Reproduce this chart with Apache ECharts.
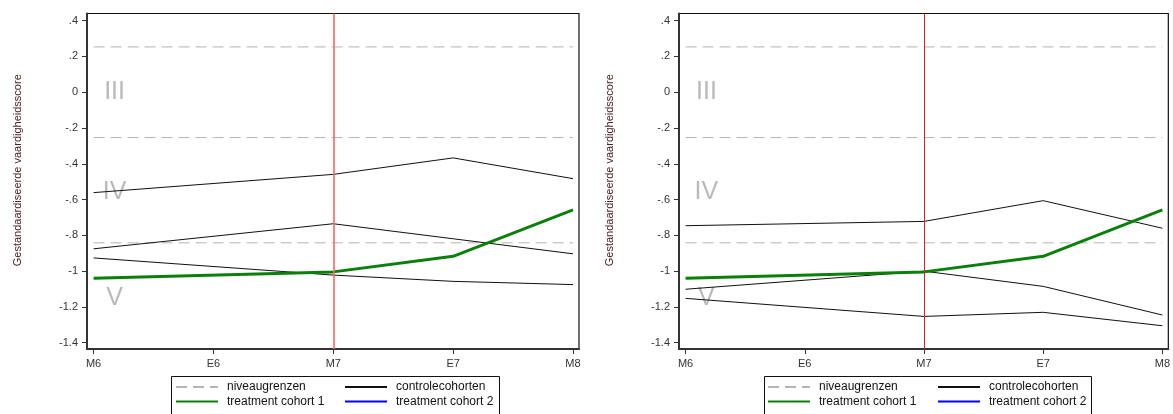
<!DOCTYPE html>
<html>
<head>
<meta charset="utf-8">
<script src="https://cdn.jsdelivr.net/npm/echarts@6/dist/echarts.min.js"></script>
<style>
  html, body { margin: 0; padding: 0; background: #fff; }
  #chart { width: 1173px; height: 414px; }
</style>
</head>
<body>
<div id="chart"></div>
<script>
// Measurement moments on the x axis
const categories = ['M6', 'E6', 'M7', 'E7', 'M8'];
const markerMoment = 'M7';

// Y axis ticks and their printed labels
const yTickValues = [0.4, 0.2, 0, -0.2, -0.4, -0.6, -0.8, -1, -1.2, -1.4];
const yTickLabels = ['.4', '.2', '0', '-.2', '-.4', '-.6', '-.8', '-1', '-1.2', '-1.4'];

// Level boundaries (niveaugrenzen) and the level names drawn between them
const levelBoundaries = [0.2533, -0.2533, -0.8416];
const levelNames = ['III', 'IV', 'V'];
const levelLabelY = [0, -0.56, -1.15];
const levelLabelX = 0.175;

// Left panel: control cohorts (no E6 measurement)
const leftControlA = [-0.561, null, -0.459, -0.367, -0.483];
const leftControlB = [-0.875, null, -0.735, -0.819, -0.903];
const leftControlC = [-0.926, null, -1.022, -1.057, -1.075];

// Right panel: control cohorts
const rightControlA = [-0.746, null, -0.722, -0.606, -0.760];
const rightControlB = [-1.101, null, -1.000, -1.085, -1.245];
const rightControlC = [-1.152, null, -1.253, -1.230, -1.305];

// Treatment cohorts
const treatment1 = [-1.040, null, -1.004, -0.917, -0.657];
const treatment2 = [];

const FONT = "'Liberation Sans', Arial, sans-serif";
const toPoints = vals => vals.map((v, i) => [i, v]);
const markerIndex = categories.indexOf(markerMoment);

const panels = [
  { left: 87, controls: [leftControlA, leftControlB, leftControlC], markerColor: '#ff6262', markerWidth: 1.6,
    legendCols: [175, 344], frame: [169, 497] },
  { left: 679, controls: [rightControlA, rightControlB, rightControlC], markerColor: '#e81c1c', markerWidth: 1,
    legendCols: [767, 937], frame: [762, 1089] }
];

const grids = [], xAxes = [], yAxes = [], series = [], legends = [], graphics = [];

panels.forEach((p, k) => {
  grids.push({
    left: p.left, top: 13.5, width: 492, height: 335.5,
    show: true, borderColor: '#111', borderWidth: 1.2, backgroundColor: '#fff'
  });
  xAxes.push({
    type: 'value', gridIndex: k, min: -0.055, max: 4.05,
    splitLine: { show: false },
    axisLine: { onZero: false, lineStyle: { color: '#333', width: 2 } },
    axisTick: { show: true, length: 5, customValues: categories.map((c, i) => i), lineStyle: { color: '#333', width: 1 } },
    axisLabel: {
      customValues: categories.map((c, i) => i),
      formatter: v => categories[Math.round(v)],
      margin: 9, fontFamily: FONT, fontSize: 11, color: '#333'
    }
  });
  yAxes.push({
    type: 'value', gridIndex: k, min: -1.435, max: 0.44,
    name: 'Gestandaardiseerde vaardigheidsscore',
    nameLocation: 'middle', nameGap: 64,
    nameTextStyle: { fontFamily: FONT, fontSize: 11, color: '#4a2222', padding: [0, 0, 0, 22] },
    splitLine: { show: false },
    axisLine: { show: true, onZero: false, lineStyle: { color: '#333', width: 2 } },
    axisTick: { show: true, length: 5, customValues: yTickValues, lineStyle: { color: '#333', width: 1 } },
    axisLabel: {
      customValues: yTickValues,
      formatter: v => yTickLabels[yTickValues.findIndex(t => Math.abs(t - v) < 1e-9)],
      margin: 9, fontFamily: FONT, fontSize: 11, color: '#333'
    }
  });

  // level boundaries
  levelBoundaries.forEach(b => {
    series.push({
      type: 'line', name: 'niveaugrenzen', xAxisIndex: k, yAxisIndex: k,
      data: categories.map((c, i) => [i, b]), symbol: 'none', silent: true,
      itemStyle: { color: '#b4b4b4' },
      lineStyle: { color: '#b4b4b4', width: 1, type: [11, 6] }, z: 2
    });
  });

  // level names
  series.push({
    type: 'scatter', xAxisIndex: k, yAxisIndex: k, symbolSize: 0, silent: true,
    data: levelNames.map((n, i) => ({ value: [levelLabelX, levelLabelY[i]], name: n })),
    label: { show: true, position: 'inside', formatter: d => d.name,
             fontFamily: FONT, fontSize: 25, color: '#a8a8a8' }, z: 1
  });

  // control cohorts
  p.controls.forEach((vals, j) => {
    const s = {
      type: 'line', name: 'controlecohorten', xAxisIndex: k, yAxisIndex: k,
      data: toPoints(vals), connectNulls: true, symbol: 'none',
      itemStyle: { color: '#111' },
      lineStyle: { color: '#111', width: 1 }, z: 3
    };
    if (j === 0) {
      s.markLine = {
        silent: true, symbol: 'none', label: { show: false },
        lineStyle: { color: p.markerColor, width: p.markerWidth, type: 'solid' },
        data: [{ xAxis: markerIndex }]
      };
    }
    series.push(s);
  });

  series.push({
    type: 'line', name: 'treatment cohort 1', xAxisIndex: k, yAxisIndex: k,
    data: toPoints(treatment1), connectNulls: true, symbol: 'none',
    itemStyle: { color: '#0a800a' },
    lineStyle: { color: '#0a800a', width: 3 }, z: 4
  });
  series.push({
    type: 'line', name: 'treatment cohort 2', xAxisIndex: k, yAxisIndex: k,
    data: toPoints(treatment2), symbol: 'none',
    itemStyle: { color: '#0000ff' },
    lineStyle: { color: '#0000ff', width: 3 }, z: 4
  });

  // legend: two columns per panel, line samples only
  const legendBase = {
    orient: 'vertical', top: 381, padding: 0, itemGap: 2.6,
    itemWidth: 42, itemHeight: 14, selectedMode: false,
    itemStyle: { opacity: 0 },
    textStyle: { fontFamily: FONT, fontSize: 12, color: '#111', padding: [0, 0, 0, 4] }
  };
  legends.push(Object.assign({}, legendBase, { left: p.legendCols[0], data: ['niveaugrenzen', 'treatment cohort 1'] }));
  legends.push(Object.assign({}, legendBase, { left: p.legendCols[1], data: ['controlecohorten', 'treatment cohort 2'] }));

  graphics.push({
    type: 'rect', left: p.frame[0], top: 374, z: 1,
    shape: { width: p.frame[1] - p.frame[0], height: 60 },
    style: { fill: 'none', stroke: '#111', lineWidth: 1 }
  });
});

const chart = echarts.init(document.getElementById('chart'), null, { renderer: 'canvas' });
chart.setOption({
  animation: false,
  backgroundColor: '#fff',
  grid: grids, xAxis: xAxes, yAxis: yAxes,
  legend: legends, series: series, graphic: graphics
});
</script>
</body>
</html>
